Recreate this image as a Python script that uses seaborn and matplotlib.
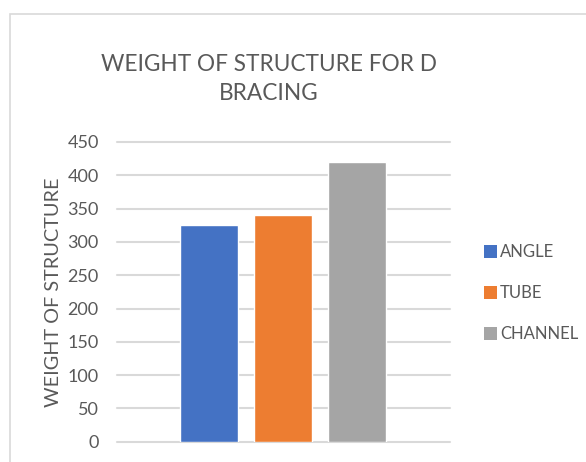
import matplotlib
matplotlib.use("Agg")
import matplotlib.pyplot as plt
import seaborn as sns
import pandas as pd
from matplotlib.patches import Rectangle, Patch

# Bracing section types and the resulting structure weight
sections = ["ANGLE", "TUBE", "CHANNEL"]
weights = [325, 340, 420]
palette = ["#4472C4", "#ED7D31", "#A5A5A5"]
y_ticks = [0, 50, 100, 150, 200, 250, 300, 350, 400, 450]

sns.set_theme(style="white")
plt.rcParams["font.family"] = ["Lato", "DejaVu Sans"]
text_color = "#595959"

df = pd.DataFrame({"group": ["D"] * len(sections), "section": sections, "weight": weights})

W, H = 586, 462
fig = plt.figure(figsize=(W / 100, H / 100), dpi=100)
fig.patch.set_facecolor("white")

# chart frame
fig.patches.append(Rectangle((10 / W, -0.1), 1.2, 1 - 14 / H + 0.1, transform=fig.transFigure,
                             fill=False, edgecolor="#D9D9D9", linewidth=1.2))

ax = fig.add_axes([116.7 / W, 1 - 441.7 / H, (450 - 116.7) / W, (441.7 - 142) / H])
sns.barplot(data=df, x="group", y="weight", hue="section", hue_order=sections,
            palette=palette, width=0.666, gap=0.216, ax=ax, legend=False, saturation=1)

ax.set_xlim(-0.5, 0.5)
ax.set_ylim(0, 450)
ax.set_yticks(y_ticks)
ax.set_yticklabels([str(t) for t in y_ticks], color=text_color, fontsize=13)
ax.set_xticks([])
ax.set_xlabel("")
ax.set_ylabel("WEIGHT OF STRUCTURE", color=text_color, fontsize=14.3, labelpad=4)
ax.tick_params(axis="y", length=0, pad=13)
for s in ax.spines.values():
    s.set_visible(False)
ax.yaxis.grid(True, color="#D9D9D9", linewidth=1.5)
ax.set_axisbelow(True)
for line in ax.get_ygridlines():
    line.set_clip_on(False)

fig.text(269 / W, 1 - 79 / H, "WEIGHT OF STRUCTURE FOR D\nBRACING", ha="center", va="center",
         fontsize=16.3, color=text_color, linespacing=1.5)

handles = [Patch(facecolor=c, edgecolor="none") for c in palette]
fig.legend(handles, sections, loc="center left", bbox_to_anchor=(469 / W, 1 - 293 / H),
           frameon=False, fontsize=12, labelcolor=text_color, handlelength=0.8, handleheight=0.8,
           handletextpad=0.15, labelspacing=1.5)

fig.savefig("out.png", dpi=100)
